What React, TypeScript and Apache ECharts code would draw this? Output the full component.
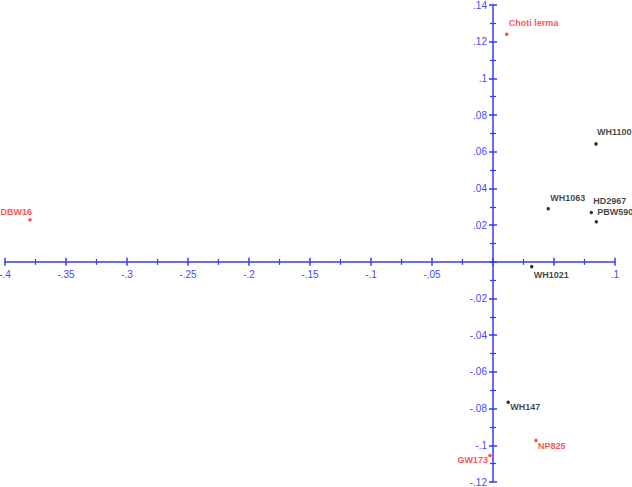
import React, { useEffect, useRef } from "react";
import * as echarts from "echarts";

// Genotype scores on the first two principal axes
const names = ["Choti lerma", "DBW16", "WH1100", "WH1063", "PBW590", "HD2967", "WH1021", "WH147", "NP825", "GW173"];
const xValues = [0.0112, -0.3795, 0.0844, 0.0453, 0.0847, 0.0806, 0.0317, 0.0125, 0.0352, -0.0025];
const yValues = [0.124, 0.0229, 0.0643, 0.029, 0.0218, 0.0269, -0.0026, -0.0765, -0.0974, -0.1056];
const highlighted = ["Choti lerma", "DBW16", "NP825", "GW173"];

// Label placement per genotype: [dx, dy, align]
const labelPlacement: Record<string, [number, number, "left" | "right"]> = {
  "Choti lerma": [2, -11, "left"],
  DBW16: [2, -8, "right"],
  WH1100: [1, -12, "left"],
  WH1063: [2, -11, "left"],
  PBW590: [1, -10, "left"],
  HD2967: [2, -11, "left"],
  WH1021: [2, 8, "left"],
  WH147: [2, 5, "left"],
  NP825: [2, 5, "left"],
  GW173: [-2, 4, "right"],
};

const X_MIN = -0.4;
const X_MAX = 0.1;
const Y_MIN = -0.12;
const Y_MAX = 0.14;
// x tick value whose label sits under the WH1021 label and is left blank
const X_HIDDEN_TICKS = [0.05];

const W = 632;
const H = 487;
const GRID = { left: 5, right: 17, top: 5, bottom: 5 };

const AXIS_COLOR = "#3a3af2";
const TICK_TEXT = "#4848ff";
const RED = "#ff1e1e";
const FONT = "'Liberation Sans', Arial, sans-serif";

const fmt = (v: number) => {
  if (Math.abs(v) < 1e-9) return "";
  const s = String(+v.toFixed(3));
  return s.replace(/^(-?)0\./, "$1.");
};
const fmtX = (v: number) => (X_HIDDEN_TICKS.some((h) => Math.abs(h - v) < 1e-9) ? "" : fmt(v));

export default function App() {
  const ref = useRef<HTMLDivElement>(null);
  useEffect(() => {
    if (!ref.current) return;
    const chart = echarts.init(ref.current, null, { renderer: "svg" });

    // The axes cross at the origin; shift them there from the grid edges.
    const gridW = W - GRID.left - GRID.right;
    const gridH = H - GRID.top - GRID.bottom;
    const zeroFromLeft = ((0 - X_MIN) / (X_MAX - X_MIN)) * gridW;
    const zeroFromBottom = ((0 - Y_MIN) / (Y_MAX - Y_MIN)) * gridH;

    const line = { show: true, onZero: false, lineStyle: { color: AXIS_COLOR, width: 1.5 } };
    const noLine = { show: false, onZero: false };
    const minor = { show: true, splitNumber: 2, length: 3, lineStyle: { color: AXIS_COLOR, width: 1.2 } };
    const tick = { show: true, length: 4, lineStyle: { color: AXIS_COLOR, width: 1.5 } };
    const axisText = {
      show: true,
      color: TICK_TEXT,
      fontSize: 10,
      fontFamily: FONT,
      showMinLabel: true,
      showMaxLabel: true,
      hideOverlap: false,
    };
    const xBase = { type: "value" as const, min: X_MIN, max: X_MAX, interval: 0.05, splitLine: { show: false }, minorTick: minor, axisTick: tick };
    const yBase = { type: "value" as const, min: Y_MIN, max: Y_MAX, interval: 0.02, splitLine: { show: false }, minorTick: minor, axisTick: tick };

    const data = names.map((n, i) => {
      const red = highlighted.includes(n);
      const [dx, dy, align] = labelPlacement[n];
      return {
        name: n,
        value: [xValues[i], yValues[i]],
        itemStyle: { color: red ? RED : "#000" },
        label: {
          show: true,
          formatter: n,
          position: [1.75 + dx, 1.75 + dy],
          align,
          verticalAlign: "middle",
          color: red ? RED : "#111",
          fontSize: 9,
          fontWeight: "bold",
          fontFamily: FONT,
          backgroundColor: n === "HD2967" ? "#fff" : "transparent",
          padding: 0,
        },
      };
    });

    chart.setOption({
      animation: false,
      backgroundColor: "#fff",
      grid: { ...GRID, containLabel: false, outerBoundsMode: "none" },
      xAxis: [
        { ...xBase, position: "bottom", offset: -zeroFromBottom, axisLine: line, axisLabel: { ...axisText, formatter: fmtX, margin: 8 } },
        { ...xBase, position: "top", offset: -(gridH - zeroFromBottom), axisLine: noLine, axisLabel: { show: false } },
      ],
      yAxis: [
        { ...yBase, position: "left", offset: -zeroFromLeft, axisLine: line, axisLabel: { ...axisText, formatter: fmt, margin: 6 } },
        { ...yBase, position: "right", offset: -(gridW - zeroFromLeft), axisLine: noLine, axisLabel: { show: false } },
      ],
      series: [
        {
          type: "scatter",
          symbol: "circle",
          symbolSize: 3.5,
          data,
          labelLayout: { hideOverlap: false },
        },
      ],
    });
    return () => chart.dispose();
  }, []);
  return (
    <div
      ref={ref}
      style={{ position: "fixed", left: 0, top: 0, width: W, height: H, background: "#fff" }}
    />
  );
}
